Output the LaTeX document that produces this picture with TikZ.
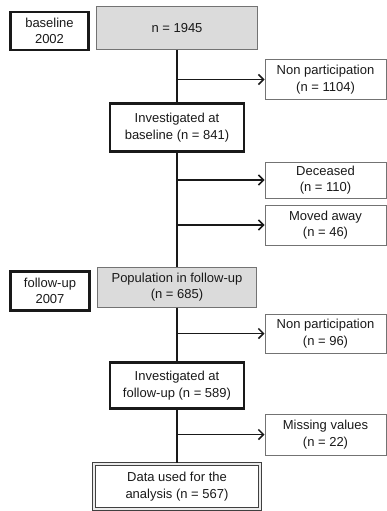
\documentclass[tikz,border=0pt]{standalone}
\usepackage{fontspec}
\setmainfont{Liberation Sans}
\usetikzlibrary{arrows.meta}
\begin{document}
\begin{tikzpicture}[x=1pt,y=-1pt,
  every node/.style={font=\fontsize{13}{16.5}\selectfont, align=center, inner sep=0pt, text=black!90},
  thickbox/.style={draw=black!90, line width=2.4pt, rectangle},
  graybox/.style={draw=black!55, line width=1pt, fill=black!14, rectangle},
  thinbox/.style={draw=black!55, line width=1pt, rectangle, minimum width=121pt},
  databox/.style={draw=black!75, double=black!8, double distance=1.6pt, line width=1.2pt, rectangle},
  link/.style={draw=black!90, line width=1.6pt},
  arr/.style={link, -{Straight Barb[length=5pt,width=10pt,line width=1.5pt]}}
]
\useasboundingbox (0,0) rectangle (386,511);
\node[thickbox, minimum width=78pt, minimum height=38pt] (base) at (49.5,31) {baseline\\2002};
\node[graybox, minimum width=161pt, minimum height=43pt] (n0) at (177,28) {n = 1945};
\node[thinbox, minimum height=39pt] (np1) at (325.5,79.5) {Non participation\\(n = 1104)};
\node[thickbox, minimum width=134pt, minimum height=48pt] (inv1) at (177,127.5) {Investigated at\\baseline (n = 841)};
\node[thinbox, minimum height=36pt] (dec) at (325.5,180) {Deceased\\(n = 110)};
\node[thinbox, minimum height=40pt] (mov) at (325.5,225) {Moved away\\(n = 46)};
\node[graybox, minimum width=159pt, minimum height=40pt] (pop) at (177,287) {Population in follow-up\\(n = 685)};
\node[thickbox, minimum width=79pt, minimum height=39pt] (fu) at (50,291) {follow-up\\2007};
\node[thinbox, minimum height=39pt] (np2) at (325.5,333.5) {Non participation\\(n = 96)};
\node[thickbox, minimum width=134pt, minimum height=46pt] (inv2) at (177,385.5) {Investigated at\\follow-up (n = 589)};
\node[thinbox, minimum height=41pt] (miss) at (325.5,434.5) {Missing values\\(n = 22)};
\node[databox, minimum width=166pt, minimum height=45pt] (data) at (177,486.5) {Data used for the\\analysis (n = 567)};
\draw[link] (n0.south) -- (inv1.north);
\draw[link] (inv1.south) -- (pop.north);
\draw[link] (pop.south) -- (inv2.north);
\draw[link] (inv2.south) -- (data.north);
\draw[arr] (np1.west -| n0.south) -- (np1.west);
\draw[arr] (dec.west -| inv1.south) -- (dec.west);
\draw[arr] (mov.west -| inv1.south) -- (mov.west);
\draw[arr] (np2.west -| pop.south) -- (np2.west);
\draw[arr] (miss.west -| inv2.south) -- (miss.west);
\end{tikzpicture}
\end{document}
